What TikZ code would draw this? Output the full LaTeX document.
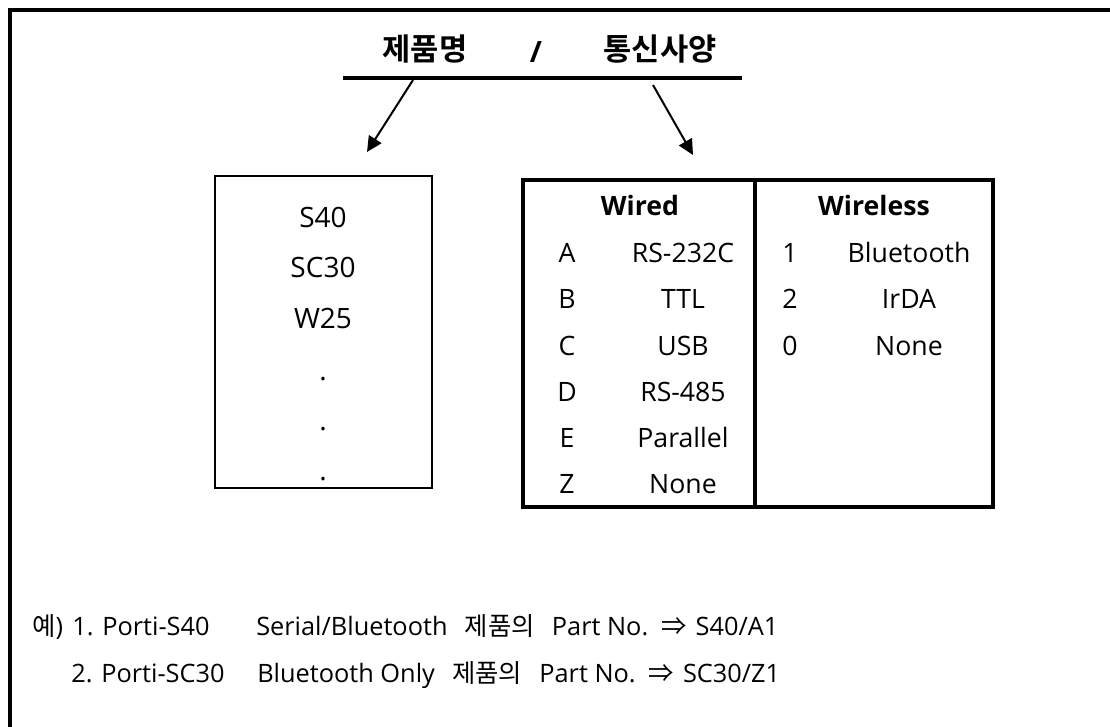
\documentclass[tikz,border=0pt]{standalone}
\usepackage{fontspec}
\setmainfont{Open Sans}
\newfontfamily\kr{Noto Sans CJK KR}[BoldFont=* Bold]
\usetikzlibrary{arrows.meta}
\begin{document}
\begin{tikzpicture}[x=0.75pt,y=-0.75pt,
  txt/.style={anchor=base,inner sep=0pt,font=\fontsize{20}{24}\selectfont},
  boxtxt/.style={anchor=base,inner sep=0pt,font=\fontsize{21}{25}\selectfont},
  hdr/.style={anchor=base,inner sep=0pt,font=\fontsize{20}{24}\selectfont\bfseries},
  ttl/.style={anchor=center,inner sep=0pt,font=\fontsize{23}{28}\selectfont\kr\bfseries},
  note/.style={anchor=base west,inner sep=0pt,font=\fontsize{19}{23}\selectfont},
  arr/.style={line width=1.5pt,-{Triangle[length=11.5pt,width=11pt]}},
  thinbox/.style={draw,line width=1.1pt,inner sep=0pt},
  thickline/.style={line width=2.3pt}]
\useasboundingbox (0,0) rectangle (1110,726);
% outer frame (cut at right and bottom)
\draw[line width=2.5pt,line cap=rect] (10,726) -- (10,10) -- (1110,10);

% title
\node[ttl] (t1) at (425,49) {제품명};
\node[anchor=base,inner sep=0pt,font=\fontsize{22}{26}\selectfont\bfseries] (tslash) at (536,62) {/};
\node[ttl] (t2) at (660,49) {통신사양};
\coordinate (ulL) at (343,78);
\coordinate (ulR) at (742,78);
\draw[line width=3pt] (ulL) -- (ulR);

% arrows
\coordinate (a1s) at (413,80);
\coordinate (a1e) at (367,152);
\coordinate (a2s) at (653,85);
\coordinate (a2e) at (693,155);
\draw[arr] (a1s) -- (a1e);
\draw[arr] (a2s) -- (a2e);

% left box
\node[thinbox,minimum width=162.75pt,minimum height=234pt] (lbox) at (323.5,332) {};
\node[boxtxt] (p1) at (323,227) {S40};
\node[boxtxt] (p2) at (323,277) {SC30};
\node[boxtxt] (p3) at (323,328) {W25};
\node[boxtxt] (d1) at (323,380) {.};
\node[boxtxt] (d2) at (323,430) {.};
\node[boxtxt] (d3) at (323,480) {.};

% table
\coordinate (tNW) at (523,180);
\coordinate (tSE) at (993,507);
\coordinate (dvT) at (755,180);
\coordinate (dvB) at (755,507);
\draw[thickline] (tNW) rectangle (tSE);
\draw[thickline] (dvT) -- (dvB);
\node[hdr] (wired) at (640,215) {Wired};
\node[hdr] (wireless) at (874,215) {Wireless};
\foreach \k/\v/\y [count=\i] in {A/RS-232C/262,B/TTL/308,C/USB/355,D/RS-485/401,E/Parallel/447,Z/None/493}{
  \node[txt] (wk\i) at (567,\y) {\k};
  \node[txt] (wv\i) at (683,\y) {\v};
}
\foreach \k/\v/\y [count=\i] in {1/Bluetooth/262,2/IrDA/308,0/None/355}{
  \node[txt] (lk\i) at (790,\y) {\k};
  \node[txt] (lv\i) at (909,\y) {\v};
}

% example notes
\node[note] (n1a) at (32,635) {{\kr 예})\hspace{2pt} 1. Porti-S40};
\node[note] (n1b) at (256,635) {Serial/Bluetooth\hspace{8pt} {\kr 제품의}\hspace{8pt} Part No.\hspace{3pt} {\kr ⇒}\hspace{2pt} S40/A1};
\node[note] (n2a) at (71,682) {2. Porti-SC30};
\node[note] (n2b) at (257,682) {Bluetooth Only\hspace{8pt} {\kr 제품의}\hspace{8pt} Part No.\hspace{3pt} {\kr ⇒}\hspace{2pt} SC30/Z1};
\end{tikzpicture}
\end{document}
